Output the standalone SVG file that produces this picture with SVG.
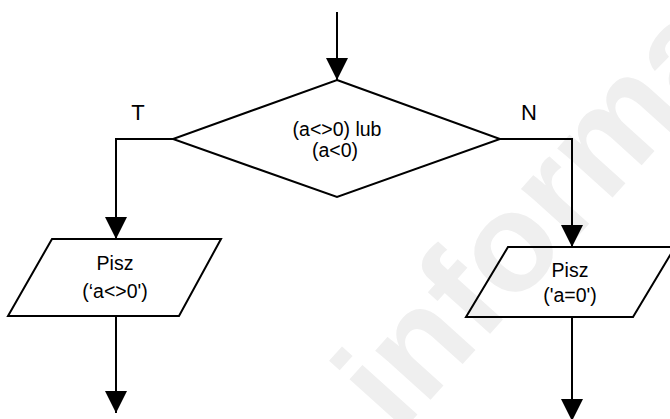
<svg xmlns="http://www.w3.org/2000/svg" width="670" height="419" viewBox="0 0 670 419">
  <style>
    .shape { fill: none; stroke: #000; stroke-width: 2; stroke-linejoin: miter; }
    .conn { fill: none; stroke: #000; stroke-width: 2; }
    .lbl { font-family: "Liberation Sans", Arial, sans-serif; font-size: 19.5px; fill: #000; text-anchor: middle; }
    .tn { font-family: "Liberation Sans", Arial, sans-serif; font-size: 22px; fill: #000; text-anchor: middle; }
    .wm { font-family: "Liberation Sans", Arial, sans-serif; font-size: 140px; font-weight: bold; fill: #efefef; }
  </style>
  <defs>
    <marker id="arrow" viewBox="0 0 22 22" refX="22" refY="11" markerWidth="22" markerHeight="22" markerUnits="userSpaceOnUse" orient="auto">
      <path d="M0,0 L22,11 L0,22 z" fill="#000"/>
    </marker>
  </defs>
  <rect width="670" height="419" fill="#fff"/>
  <text class="wm" transform="translate(398,436) rotate(-48)">informa</text>

  <g id="connectors">
    <path class="conn" d="M337,12 V80" marker-end="url(#arrow)"/>
    <path class="conn" d="M173,139 H116 V239" marker-end="url(#arrow)"/>
    <path class="conn" d="M500,139 H572 V247" marker-end="url(#arrow)"/>
    <path class="conn" d="M116,316 V413" marker-end="url(#arrow)"/>
    <path class="conn" d="M572,317 V421" marker-end="url(#arrow)"/>
    <text class="tn" x="138" y="120">T</text>
    <text class="tn" x="529" y="120">N</text>
  </g>

  <g id="decision">
    <polygon class="shape" points="337,80 500,139 337,197 173,139"/>
    <text class="lbl" x="337" y="136">(a&lt;&gt;0) lub</text>
    <text class="lbl" x="335" y="157">(a&lt;0)</text>
  </g>

  <g id="output-yes">
    <polygon class="shape" points="52,239 221,239 179,316 8,316"/>
    <text class="lbl" x="115" y="270">Pisz</text>
    <text class="lbl" x="115" y="298">(‘a&lt;&gt;0')</text>
  </g>

  <g id="output-no">
    <polygon class="shape" points="508,247 675,247 633,317 466,317"/>
    <text class="lbl" x="570" y="277">Pisz</text>
    <text class="lbl" x="570" y="302">('a=0')</text>
  </g>
</svg>
